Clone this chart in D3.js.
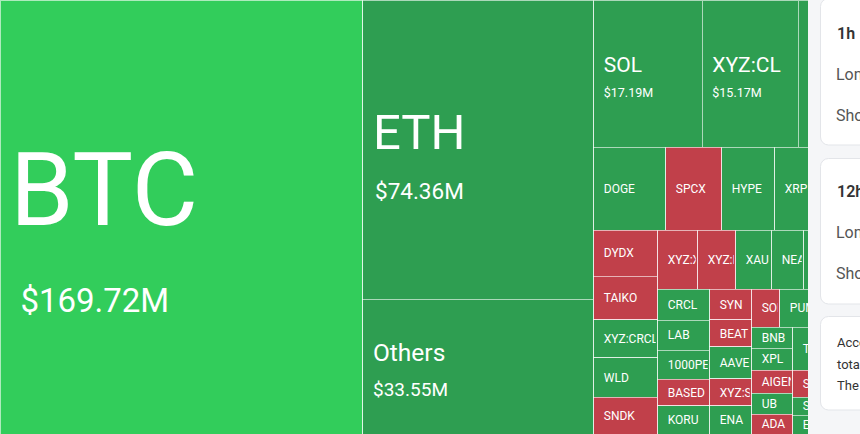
<!DOCTYPE html>
<html>
<head>
<meta charset="utf-8">
<script src="https://cdn.jsdelivr.net/npm/d3@7"></script>
<style>
  body { margin: 0; background: #f5f6f8; overflow: hidden; }
  svg { display: block; font-family: Roboto, "Noto Sans", sans-serif; }
</style>
</head>
<body>
<script>
// coins, liquidation value ($M) and which side dominates (2 strong long, 1 long, -1 short)
var names = ["BTC", "ETH", "Others", "SOL", "XYZ:CL", "LINK", "DOGE", "SPCX", "HYPE", "XRP",
  "DYDX", "TAIKO", "XYZ:CRCL", "WLD", "SNDK", "XYZ:XYZ100", "XYZ:NVDA", "XAU", "NEAR", "ZEC",
  "CRCL", "LAB", "1000PEPE", "BASED", "KORU", "SYN", "BEAT", "AAVE", "XYZ:SILVER", "ENA",
  "SOPH", "PUMP", "BNB", "XPL", "AIGENSYN", "UB", "ADA", "TRUMP", "SUI", "STBL", "ETC",
  "AVAX", "LTC", "WIF"];
var values = [169.72, 74.36, 33.55, 17.19, 15.17, 13.92, 6.44, 5.01, 4.74, 9.94,
  3.17, 3.03, 2.62, 2.69, 2.55, 2.54, 2.42, 2.29, 2.03, 5.23,
  1.74, 1.68, 1.62, 1.51, 1.57, 1.40, 1.22, 1.45, 1.22, 1.27,
  1.15, 4.35, 0.93, 0.97, 1.02, 0.93, 0.88, 1.72, 1.08, 0.72, 0.76,
  2.30, 2.20, 1.96];
var trend = [2, 1, 1, 1, 1, 1, 1, -1, 1, 1,
  -1, -1, 1, 1, -1, -1, -1, 1, 1, 1,
  1, 1, 1, -1, 1, -1, -1, 1, -1, 1,
  -1, 1, 1, 1, -1, 1, -1, 1, -1, 1, 1,
  1, 1, 1];

// rows and columns of the squarified map ("h" = side by side, "v" = stacked)
var layout = ["h", 0, ["v", 1, 2],
  ["v", ["h", 3, 4, 5], ["h", 6, 7, 8, 9],
    ["h", ["v", 10, 11, 12, 13, 14],
      ["v", ["h", 15, 16, 17, 18, 19],
        ["h", ["v", 20, 21, 22, 23, 24], ["v", 25, 26, 27, 28, 29],
          ["v", ["h", 30, 31],
            ["h", ["v", 32, 33, 34, 35, 36], ["v", 37, 38, 39, 40], ["v", 41, 42, 43]]]]]]]];

var cardTitles = ["1h", "12h"];
var cardRows = ["Long", "Short"];
var noteLines = ["According to the statistics, in the past 24 hours,",
  "total liquidations came to $468.15M across the market.",
  "The largest single liquidation order happened on Hyperliquid."];

var width = 860, height = 434, mapWidth = 808, fullWidth = 886;

var colors = {"2": "#32cd5b", "1": "#2e9e51", "-1": "#c1404a"};

function build(spec) {
  if (typeof spec === "number") {
    return {name: names[spec], value: values[spec], trend: trend[spec]};
  }
  return {dir: spec[0], children: spec.slice(1).map(build)};
}

var root = d3.hierarchy(build(layout)).sum(function(d) { return d.value || 0; });

d3.treemap()
  .size([fullWidth, height])
  .tile(function(node, x0, y0, x1, y1) {
    (node.data.dir === "h" ? d3.treemapDice : d3.treemapSlice)(node, x0, y0, x1, y1);
  })(root);

var labelSize = d3.scaleLinear().domain([10, 17.19, 33.55, 74.36, 169.72])
  .range([21, 21, 24.5, 49, 102]).clamp(true);
var valueSize = d3.scaleLinear().domain([17.19, 33.55, 74.36, 169.72])
  .range([12.5, 19, 22.5, 33]).clamp(true);

var svg = d3.select("body").append("svg")
  .attr("width", width)
  .attr("height", height);

svg.append("rect").attr("width", width).attr("height", height).attr("fill", "#f5f6f8");

var defs = svg.append("defs");
defs.append("clipPath").attr("id", "mapclip")
  .append("rect").attr("width", mapWidth).attr("height", height);

var map = svg.append("g").attr("clip-path", "url(#mapclip)");

var leaves = root.leaves();

var cell = map.selectAll("g.cell")
  .data(leaves)
  .enter().append("g")
    .attr("class", "cell");

// labels are cut a little before the right edge of their cell
cell.each(function(d, i) {
  defs.append("clipPath").attr("id", "c" + i)
    .append("rect")
      .attr("x", d.x0).attr("y", d.y0)
      .attr("width", Math.max(0, d.x1 - d.x0 - 2)).attr("height", d.y1 - d.y0);
});

cell.append("rect")
  .attr("x", function(d) { return d.x0; })
  .attr("y", function(d) { return d.y0; })
  .attr("width", function(d) { return d.x1 - d.x0; })
  .attr("height", function(d) { return d.y1 - d.y0; })
  .attr("fill", function(d) { return colors[d.data.trend]; })
  .attr("stroke", "#fff")
  .attr("stroke-opacity", 0.6)
  .attr("stroke-width", 1)
  .attr("shape-rendering", "crispEdges");

var text = cell.append("g")
  .attr("clip-path", function(d, i) { return "url(#c" + i + ")"; })
  .attr("fill", "#fff");

text.each(function(d) {
  var g = d3.select(this);
  var cy = (d.y0 + d.y1) / 2;
  if (d.data.value >= 10) {
    var L = labelSize(d.data.value), V = valueSize(d.data.value);
    var gap = 0.45 * L + 0.55 * V;
    var block = 0.71 * L + gap + 0.71 * V;
    var labelY = cy + 0.15 * L - block / 2 + 0.71 * L;
    g.append("text")
      .attr("x", d.x0 + 10)
      .attr("y", labelY)
      .style("font-size", L + "px")
      .text(d.data.name);
    g.append("text")
      .attr("x", d.x0 + 10 + Math.max(0, (V - 20) * 0.8))
      .attr("y", labelY + gap + 0.71 * V)
      .style("font-size", V + "px")
      .text("$" + d3.format(".2f")(d.data.value) + "M");
  } else {
    g.append("text")
      .attr("x", d.x0 + 10)
      .attr("y", cy + 4.4)
      .style("font-size", "12px")
      .text(d.data.name);
  }
});

// side panel cards
var cards = [{y: -1.5, h: 146.5}, {y: 158.5, h: 145.5}, {y: 316.5, h: 93.5}];
svg.selectAll("rect.card")
  .data(cards)
  .enter().append("rect")
    .attr("class", "card")
    .attr("x", 820.5)
    .attr("y", function(d) { return d.y; })
    .attr("width", 300)
    .attr("height", function(d) { return d.h; })
    .attr("rx", 8)
    .attr("fill", "#fff")
    .attr("stroke", "#e3e5e9");

cardTitles.forEach(function(t, i) {
  var top = i * 158;
  svg.append("text")
    .attr("x", 837).attr("y", top + 39)
    .attr("fill", "#333")
    .style("font-size", "16px").style("font-weight", 600)
    .text(t);
  cardRows.forEach(function(r, j) {
    svg.append("text")
      .attr("x", 836).attr("y", top + 80 + j * 41)
      .attr("fill", "#555")
      .style("font-size", "16px")
      .text(r);
  });
});

svg.selectAll("text.note")
  .data(noteLines)
  .enter().append("text")
    .attr("class", "note")
    .attr("x", 837)
    .attr("y", function(d, i) { return 347 + i * 21.5; })
    .attr("fill", "#333")
    .style("font-size", "13px")
    .text(function(d) { return d; });
</script>
</body>
</html>
